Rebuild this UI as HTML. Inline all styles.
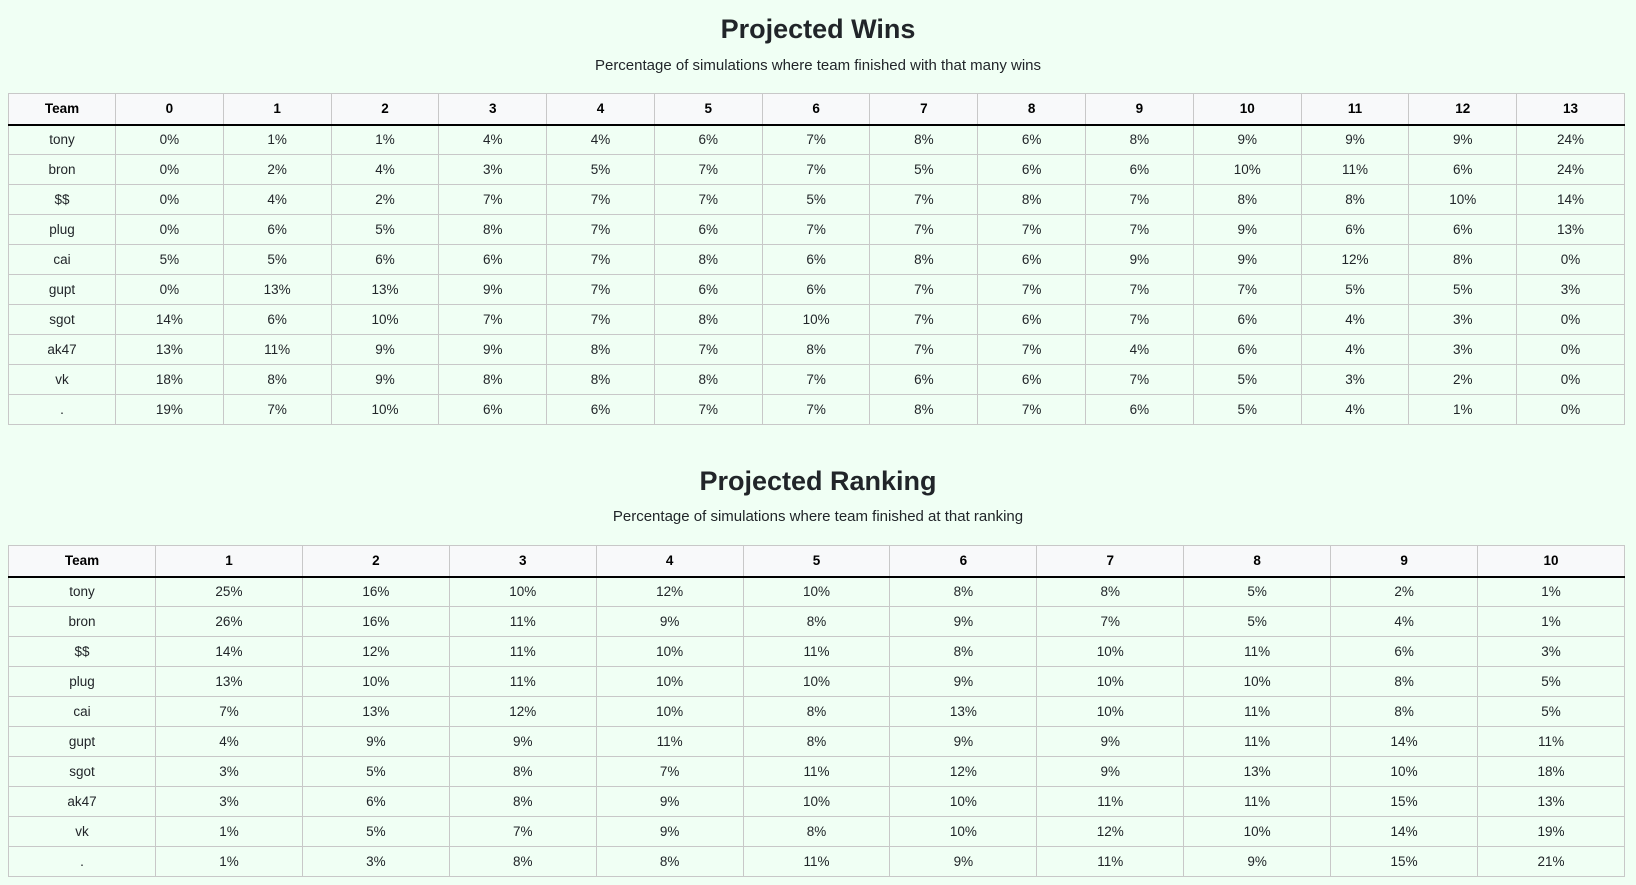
<!DOCTYPE html>
<html><head><meta charset="utf-8">
<style>
html,body{margin:0;padding:0;background:#f0fff4;width:1636px;height:885px;overflow:hidden;font-family:"Liberation Sans",sans-serif;color:#212529}
.title{position:absolute;left:0;width:1636px;text-align:center;font-size:27px;font-weight:bold;margin:0}
.sub{position:absolute;left:0;width:1636px;text-align:center;font-size:15px;margin:0}
table{position:absolute;left:8px;border-collapse:collapse;table-layout:fixed;font-size:13.5px}
td,th{border:1px solid #c8c8c8;text-align:center;height:30px;padding:0;box-sizing:border-box}
th{background:#f8f9fa;font-weight:bold;color:#000;border-bottom:2px solid #000;height:31px}
</style></head><body>
<h2 class="title" style="top:14px">Projected Wins</h2>
<p class="sub" style="top:57px">Percentage of simulations where team finished with that many wins</p>
<table id="t1" style="top:93px;width:1616px"></table>
<h2 class="title" style="top:466px">Projected Ranking</h2>
<p class="sub" style="top:508px">Percentage of simulations where team finished at that ranking</p>
<table id="t2" style="top:545px;width:1616px"></table>
<script>
const teams=["tony","bron","$$","plug","cai","gupt","sgot","ak47","vk","."];
const winCols=["0","1","2","3","4","5","6","7","8","9","10","11","12","13"];
const winVals=[
[0,1,1,4,4,6,7,8,6,8,9,9,9,24],
[0,2,4,3,5,7,7,5,6,6,10,11,6,24],
[0,4,2,7,7,7,5,7,8,7,8,8,10,14],
[0,6,5,8,7,6,7,7,7,7,9,6,6,13],
[5,5,6,6,7,8,6,8,6,9,9,12,8,0],
[0,13,13,9,7,6,6,7,7,7,7,5,5,3],
[14,6,10,7,7,8,10,7,6,7,6,4,3,0],
[13,11,9,9,8,7,8,7,7,4,6,4,3,0],
[18,8,9,8,8,8,7,6,6,7,5,3,2,0],
[19,7,10,6,6,7,7,8,7,6,5,4,1,0]];
const rankCols=["1","2","3","4","5","6","7","8","9","10"];
const rankVals=[
[25,16,10,12,10,8,8,5,2,1],
[26,16,11,9,8,9,7,5,4,1],
[14,12,11,10,11,8,10,11,6,3],
[13,10,11,10,10,9,10,10,8,5],
[7,13,12,10,8,13,10,11,8,5],
[4,9,9,11,8,9,9,11,14,11],
[3,5,8,7,11,12,9,13,10,18],
[3,6,8,9,10,10,11,11,15,13],
[1,5,7,9,8,10,12,10,14,19],
[1,3,8,8,11,9,11,9,15,21]];
function build(id,cols,vals,firstW,prefix){
  const t=document.getElementById(id);
  const cg=document.createElement('colgroup');
  const c0=document.createElement('col');c0.style.width=firstW+'px';cg.appendChild(c0);
  const rest=(1616-firstW)/cols.length;
  cols.forEach(()=>{const c=document.createElement('col');c.style.width=rest+'px';cg.appendChild(c);});
  t.appendChild(cg);
  const hr=document.createElement('tr');
  
  
  const th0=document.createElement('th');th0.textContent='Team';
  
  
  hr.appendChild(th0);
  cols.forEach(c=>{const th=document.createElement('th');th.textContent=c;
    
    
    hr.appendChild(th);});
  t.appendChild(hr);
  teams.forEach((tm,i)=>{
    const tr=document.createElement('tr');
    
    
    const td=document.createElement('td');td.textContent=tm;
    
    
    tr.appendChild(td);
    vals[i].forEach(v=>{const c=document.createElement('td');c.textContent=v+'%';
      
      
      tr.appendChild(c);});
    t.appendChild(tr);
  });
}
build('t1',winCols,winVals,107,'wins');
build('t2',rankCols,rankVals,147,'rank');
</script>
</body></html>
